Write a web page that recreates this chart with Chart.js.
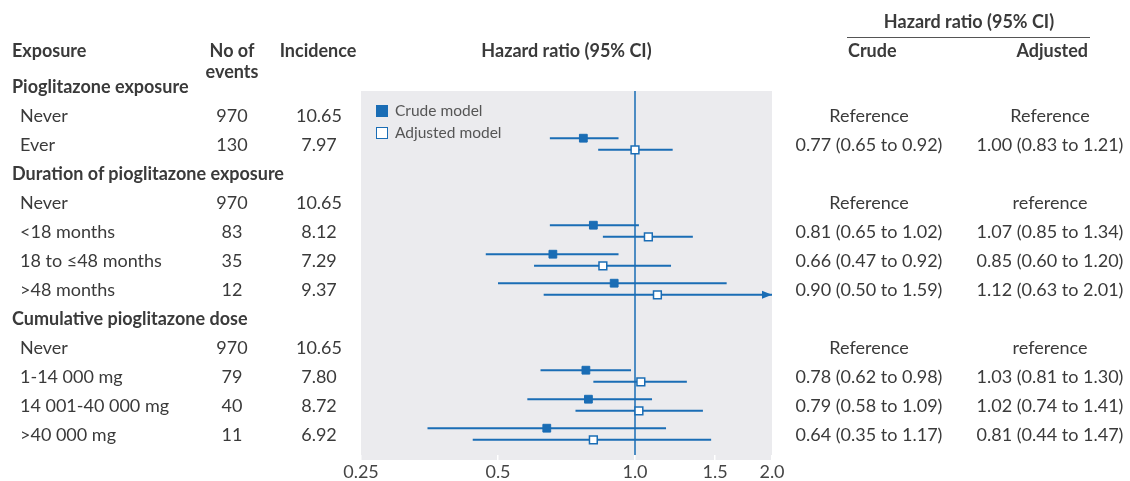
<!DOCTYPE html>
<html>
<head>
<meta charset="utf-8">
<script src="https://cdn.jsdelivr.net/npm/chart.js@4.4.1/dist/chart.umd.min.js"></script>
<style>
  html, body { margin: 0; padding: 0; background: #fff; }
  #wrap { position: relative; width: 1130px; height: 481px; font-family: Lato, "Noto Sans", sans-serif; color: #3a3a3a; }
  #c { position: absolute; left: 0; top: 0; }
  .t { position: absolute; white-space: nowrap; font-size: 18px; line-height: 21px; transform: translateY(-50%); }
  .b { font-weight: bold; }
  .ctr { transform: translate(-50%, -50%); }
  .rgt { transform: translate(-100%, -50%); }
  .lg { position: absolute; font-size: 15.5px; color: #555; white-space: nowrap; transform: translateY(-50%); line-height: 18px; }
  .sq { display: inline-block; width: 12px; height: 12px; vertical-align: -1px; margin-right: 7px; box-sizing: border-box; }
</style>
</head>
<body>
<div id="wrap">
  <canvas id="c" width="1130" height="481"></canvas>
</div>
<script>
// ---------- data ----------
const rowLabels = ["Pioglitazone exposure", "Never", "Ever",
  "Duration of pioglitazone exposure", "Never", "<18 months", "18 to \u226448 months", ">48 months",
  "Cumulative pioglitazone dose", "Never", "1-14 000 mg", "14 001-40 000 mg", ">40 000 mg"];
const rowIsHeader = [true, false, false, true, false, false, false, false, true, false, false, false, false];
const events = ["", "970", "130", "", "970", "83", "35", "12", "", "970", "79", "40", "11"];
const incidence = ["", "10.65", "7.97", "", "10.65", "8.12", "7.29", "9.37", "", "10.65", "7.80", "8.72", "6.92"];
const crudeHR = [null, null, 0.77, null, null, 0.81, 0.66, 0.90, null, null, 0.78, 0.79, 0.64];
const crudeLo = [null, null, 0.65, null, null, 0.65, 0.47, 0.50, null, null, 0.62, 0.58, 0.35];
const crudeHi = [null, null, 0.92, null, null, 1.02, 0.92, 1.59, null, null, 0.98, 1.09, 1.17];
const adjHR   = [null, null, 1.00, null, null, 1.07, 0.85, 1.12, null, null, 1.03, 1.02, 0.81];
const adjLo   = [null, null, 0.83, null, null, 0.85, 0.60, 0.63, null, null, 0.81, 0.74, 0.44];
const adjHi   = [null, null, 1.21, null, null, 1.34, 1.20, 2.01, null, null, 1.30, 1.41, 1.47];
const crudeText = ["", "Reference", "0.77 (0.65 to 0.92)", "", "Reference", "0.81 (0.65 to 1.02)", "0.66 (0.47 to 0.92)", "0.90 (0.50 to 1.59)", "", "Reference", "0.78 (0.62 to 0.98)", "0.79 (0.58 to 1.09)", "0.64 (0.35 to 1.17)"];
const adjText = ["", "Reference", "1.00 (0.83 to 1.21)", "", "reference", "1.07 (0.85 to 1.34)", "0.85 (0.60 to 1.20)", "1.12 (0.63 to 2.01)", "", "reference", "1.03 (0.81 to 1.30)", "1.02 (0.74 to 1.41)", "0.81 (0.44 to 1.47)"];
const xTicks = [0.25, 0.5, 1.0, 1.5, 2.0];
const xTickLabels = ["0.25", "0.5", "1.0", "1.5", "2.0"];
const xMin = 0.25, xMax = 2.0;
const seriesNames = ["Crude model", "Adjusted model"];

// ---------- styling ----------
const BLUE = "#1a6db5";
const GRAY_BG = "#ebebee";
const OFFSET = 0.2; // row offset for crude / adjusted

// ---------- datasets ----------
const datasets = [];
const crudePts = [], adjPts = [];
rowLabels.forEach((_, i) => {
  if (crudeHR[i] != null) {
    crudePts.push({ x: crudeHR[i], y: i - OFFSET });
    datasets.push({ type: 'line', data: [{ x: crudeLo[i], y: i - OFFSET }, { x: Math.min(crudeHi[i], xMax), y: i - OFFSET }],
      borderColor: BLUE, borderWidth: 2, pointRadius: 0, order: 2, arrow: crudeHi[i] > xMax });
  }
  if (adjHR[i] != null) {
    adjPts.push({ x: adjHR[i], y: i + OFFSET });
    datasets.push({ type: 'line', data: [{ x: adjLo[i], y: i + OFFSET }, { x: Math.min(adjHi[i], xMax), y: i + OFFSET }],
      borderColor: BLUE, borderWidth: 2, pointRadius: 0, order: 2, arrow: adjHi[i] > xMax });
  }
});
datasets.push({ type: 'line', data: [{ x: 1, y: -5 }, { x: 1, y: 20 }], borderColor: BLUE, borderWidth: 1.5, pointRadius: 0, order: 3 });
datasets.push({ type: 'scatter', label: seriesNames[0], data: crudePts, pointStyle: 'rect', pointRadius: 5.5, pointBackgroundColor: BLUE, pointBorderColor: BLUE, pointBorderWidth: 1, order: 0 });
datasets.push({ type: 'scatter', label: seriesNames[1], data: adjPts, pointStyle: 'rect', pointRadius: 5.5, pointBackgroundColor: '#ffffff', pointBorderColor: BLUE, pointBorderWidth: 1.5, order: 0 });

const bgPlugin = {
  id: 'bg',
  beforeDraw(chart) {
    const { ctx, chartArea: a } = chart;
    ctx.save();
    ctx.fillStyle = GRAY_BG;
    ctx.fillRect(a.left, a.top, a.right - a.left, a.bottom - a.top + 5);
    ctx.restore();
  },
  afterDatasetsDraw(chart) {
    const { ctx } = chart;
    const xs = chart.scales.x, ys = chart.scales.y;
    chart.data.datasets.forEach(ds => {
      if (!ds.arrow) return;
      const y = ys.getPixelForValue(ds.data[1].y);
      const x = xs.getPixelForValue(xMax);
      ctx.save();
      ctx.fillStyle = BLUE;
      ctx.beginPath();
      ctx.moveTo(x, y);
      ctx.lineTo(x - 10, y - 4);
      ctx.lineTo(x - 10, y + 4);
      ctx.closePath();
      ctx.fill();
      ctx.restore();
    });
  }
};

const chart = new Chart(document.getElementById('c'), {
  data: { datasets },
  options: {
    responsive: false,
    animation: false,
    events: [],
    layout: { padding: { left: 361, right: 358, top: 91, bottom: 0 } },
    plugins: { legend: { display: false }, tooltip: { enabled: false } },
    scales: {
      x: {
        type: 'logarithmic', min: xMin, max: xMax,
        afterBuildTicks(axis) { axis.ticks = xTicks.map(v => ({ value: v })); },
        afterFit(axis) { axis.height = 26; },
        border: { display: false },
        grid: { drawOnChartArea: false, drawTicks: true, tickLength: 5, color: '#ffffff', lineWidth: 1.5 },
        ticks: { autoSkip: false, maxRotation: 0, padding: 1, color: '#444', font: { family: 'Lato', size: 18 },
          callback: (v) => { const k = xTicks.indexOf(v); return k >= 0 ? xTickLabels[k] : ''; } }
      },
      y: {
        type: 'linear', reverse: true, min: 5 / 29, max: 369 / 29, display: false
      }
    }
  },
  plugins: [bgPlugin]
});

// ---------- HTML text ----------
const wrap = document.getElementById('wrap');
function addText(txt, x, y, cls) {
  const d = document.createElement('div');
  d.className = 't ' + (cls || '');
  d.textContent = txt;
  d.style.left = x + 'px';
  d.style.top = y + 'px';
  wrap.appendChild(d);
  return d;
}
// column headers
addText("Exposure", 12, 50, 'b');
addText("No of", 232, 50, 'b ctr');
addText("events", 232, 71, 'b ctr');
addText("Incidence", 318, 50, 'b ctr');
addText("Hazard ratio (95% CI)", (chart.chartArea.left + chart.chartArea.right) / 2, 50, 'b ctr');
addText("Hazard ratio (95% CI)", 969, 21, 'b ctr');
addText("Crude", 848, 50, 'b');
addText("Adjusted", 1088, 50, 'b rgt');
const line = document.createElement('div');
line.style.cssText = 'position:absolute;left:847px;top:37px;width:243px;height:0;border-top:1.5px solid #555;';
wrap.appendChild(line);

const ys = chart.scales.y;
rowLabels.forEach((lab, i) => {
  const y = ys.getPixelForValue(i);
  addText(lab, rowIsHeader[i] ? 12 : 20, y, rowIsHeader[i] ? 'b' : '');
  if (events[i]) addText(events[i], 232, y, 'ctr');
  if (incidence[i]) addText(incidence[i], 319, y, 'ctr');
  if (crudeText[i]) addText(crudeText[i], 869, y, 'ctr');
  if (adjText[i]) addText(adjText[i], 1050, y, 'ctr');
});

// legend
const a = chart.chartArea;
const legendStyles = [
  'background:' + BLUE + ';border:1px solid ' + BLUE + ';',
  'background:#fff;border:1.5px solid ' + BLUE + ';'
];
seriesNames.forEach((n, k) => {
  const d = document.createElement('div');
  d.className = 'lg';
  d.style.left = (a.left + 15) + 'px';
  d.style.top = (a.top + 19 + 22 * k) + 'px';
  d.innerHTML = '<span class="sq" style="' + legendStyles[k] + '"></span>';
  d.appendChild(document.createTextNode(n));
  wrap.appendChild(d);
});
</script>
</body>
</html>
